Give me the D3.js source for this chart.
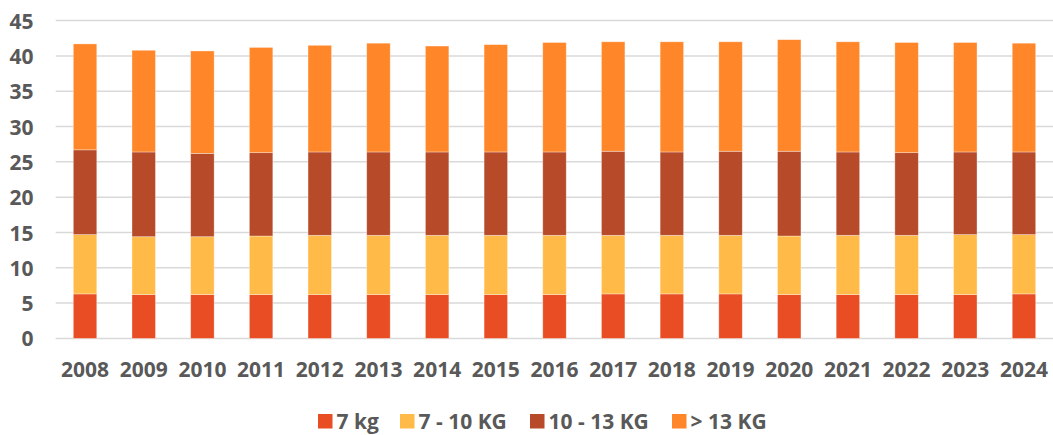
<!DOCTYPE html>
<html>
<head>
<meta charset="utf-8">
<script src="https://cdn.jsdelivr.net/npm/d3@7"></script>
<style>
  html, body { margin: 0; padding: 0; background: #fff; }
  svg { display: block; }
  text { font-family: "Open Sans", Lato, sans-serif; font-weight: bold; fill: #595959; }
</style>
</head>
<body>
<svg id="chart" width="1053" height="435"></svg>
<script>
// Years on the category axis
const years = ["2008","2009","2010","2011","2012","2013","2014","2015","2016",
               "2017","2018","2019","2020","2021","2022","2023","2024"];

// Series values (stacked, bottom to top)
const seriesNames = ["7 kg", "7 - 10 KG", "10 - 13 KG", "> 13 KG"];
const light = [6.3, 6.2, 6.2, 6.2, 6.2, 6.2, 6.2, 6.2, 6.2, 6.3, 6.3, 6.3, 6.2, 6.2, 6.2, 6.2, 6.3];
const medium = [8.4, 8.2, 8.2, 8.3, 8.4, 8.4, 8.4, 8.4, 8.4, 8.3, 8.3, 8.3, 8.3, 8.4, 8.4, 8.5, 8.4];
const heavy = [12.0, 12.0, 11.8, 11.8, 11.8, 11.8, 11.8, 11.8, 11.8, 11.9, 11.8, 11.9, 12.0, 11.8, 11.7, 11.7, 11.7];
const extraHeavy = [15.0, 14.4, 14.5, 14.9, 15.1, 15.4, 15.0, 15.2, 15.5, 15.5, 15.6, 15.5, 15.8, 15.6, 15.6, 15.5, 15.4];

// Value axis ticks
const yTicks = [0, 5, 10, 15, 20, 25, 30, 35, 40, 45];

const colors = ["#E84D24", "#FFBA47", "#B64A29", "#FF8629"];
const fontFamily = "'Open Sans', Lato, sans-serif";
const fontSize = 21;

const svg = d3.select("#chart");
const plot = { left: 55.7, right: 1053.3, top: 20.6, bottom: 338.4 };

const table = years.map((y, i) => ({
  year: y,
  [seriesNames[0]]: light[i],
  [seriesNames[1]]: medium[i],
  [seriesNames[2]]: heavy[i],
  [seriesNames[3]]: extraHeavy[i]
}));

const stacked = d3.stack().keys(seriesNames)(table);

const x = d3.scaleBand()
  .domain(years)
  .range([plot.left, plot.right])
  .paddingInner(0.6)
  .paddingOuter(0.3);

const y = d3.scaleLinear()
  .domain([0, 45])
  .range([plot.bottom, plot.top]);

// Horizontal gridlines
svg.append("g")
  .selectAll("line")
  .data(yTicks)
  .join("line")
  .attr("x1", plot.left)
  .attr("x2", plot.right)
  .attr("y1", d => y(d))
  .attr("y2", d => y(d))
  .attr("stroke", "#D9D9D9")
  .attr("stroke-width", 1.5);

// Value axis labels
const yAxis = d3.axisLeft(y).tickValues(yTicks).tickSize(0).tickPadding(0);
svg.append("g")
  .attr("transform", `translate(33.5,0)`)
  .call(yAxis)
  .call(g => g.select(".domain").remove())
  .call(g => g.selectAll("text")
    .attr("font-size", fontSize)
    .attr("dy", "0.36em")
    .style("font-family", fontFamily)
    .style("font-weight", "bold")
    .attr("fill", "#595959"));

// Stacked bars
svg.append("g")
  .selectAll("g")
  .data(stacked)
  .join("g")
  .attr("fill", (d, i) => colors[i])
  .selectAll("rect")
  .data(d => d)
  .join("rect")
  .attr("x", d => x(d.data.year))
  .attr("width", x.bandwidth())
  .attr("y", d => y(d[1]))
  .attr("height", d => y(d[0]) - y(d[1]))
  .attr("stroke", "rgba(255,255,255,0.45)")
  .attr("stroke-width", 0.75);

// Category axis labels
const xAxis = d3.axisBottom(x).tickSize(0).tickPadding(0);
svg.append("g")
  .attr("transform", `translate(0,${plot.bottom})`)
  .call(xAxis)
  .call(g => g.select(".domain").remove())
  .call(g => g.selectAll("text")
    .attr("font-size", fontSize)
    .attr("y", 38.8)
    .attr("dy", 0)
    .style("font-family", fontFamily)
    .style("font-weight", "bold")
    .attr("fill", "#595959"));

// Legend
const legendX = [318, 400, 530, 672];
const legend = svg.append("g")
  .selectAll("g")
  .data(seriesNames)
  .join("g")
  .attr("transform", (d, i) => `translate(${legendX[i]},414)`);

legend.append("rect")
  .attr("width", 14.5)
  .attr("height", 14.5)
  .attr("fill", (d, i) => colors[i]);

legend.append("text")
  .attr("x", 18.5)
  .attr("y", 14.5)
  .attr("font-size", fontSize)
  .style("font-family", fontFamily)
  .text(d => d);
</script>
</body>
</html>
